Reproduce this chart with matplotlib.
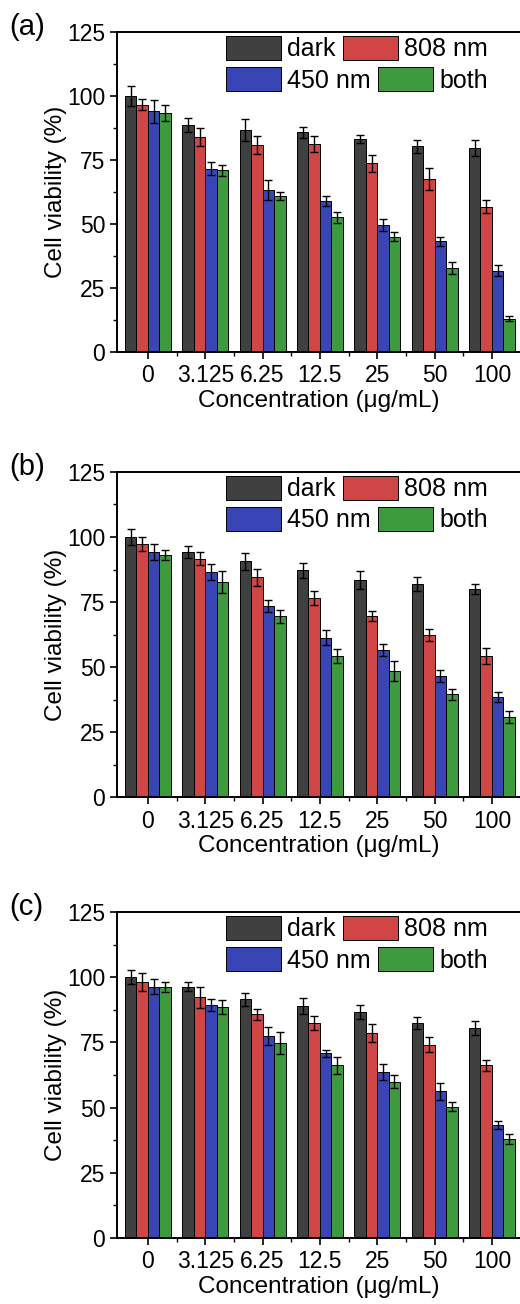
import numpy as np
import matplotlib
matplotlib.use('Agg')
import matplotlib.pyplot as plt
from matplotlib.ticker import MultipleLocator

plt.rcParams['font.family'] = ['Liberation Sans', 'DejaVu Sans']

concentrations = ['0', '3.125', '6.25', '12.5', '25', '50', '100']
series_names = ['dark', '808 nm', '450 nm', 'both']
colors = ['#404040', '#d04545', '#3a45b5', '#3d9b3d']

# panel (a)
a_dark = [100, 88.7, 86.7, 85.8, 83.2, 80.3, 79.7]
a_808 = [96.6, 84.0, 80.9, 81.3, 73.8, 67.4, 56.8]
a_450 = [94.0, 71.6, 63.4, 59.0, 49.6, 43.3, 31.8]
a_both = [93.4, 70.9, 60.9, 52.6, 45.0, 32.8, 13.0]
a_dark_err = [4.0, 2.7, 4.3, 2.1, 1.7, 2.6, 3.3]
a_808_err = [2.2, 3.5, 3.5, 3.0, 3.3, 4.3, 2.4]
a_450_err = [4.4, 2.5, 3.9, 2.0, 2.2, 1.7, 2.2]
a_both_err = [3.0, 2.1, 1.7, 2.2, 1.8, 2.2, 1.0]

# panel (b)
b_dark = [100, 94.1, 90.6, 87.2, 83.6, 82.0, 80.1]
b_808 = [97.3, 91.7, 84.5, 76.5, 69.5, 62.3, 54.2]
b_450 = [94.2, 86.5, 73.3, 61.3, 56.5, 46.5, 38.6]
b_both = [93.2, 82.7, 69.5, 54.2, 48.6, 39.5, 30.7]
b_dark_err = [3.1, 2.3, 3.2, 2.8, 3.5, 2.7, 1.9]
b_808_err = [2.7, 2.6, 3.3, 2.6, 1.9, 2.2, 3.2]
b_450_err = [3.2, 3.2, 2.3, 3.0, 2.2, 2.3, 1.9]
b_both_err = [1.9, 4.2, 2.6, 2.6, 3.8, 2.1, 2.2]

# panel (c)
c_dark = [100, 96.4, 91.5, 88.9, 86.6, 82.5, 80.5]
c_808 = [98.1, 92.3, 85.7, 82.5, 78.7, 74.1, 66.2]
c_450 = [96.4, 89.4, 77.4, 70.8, 63.6, 56.2, 43.4]
c_both = [96.2, 88.5, 74.8, 66.2, 60.0, 50.4, 38.0]
c_dark_err = [2.6, 1.7, 2.4, 3.2, 2.6, 2.2, 2.7]
c_808_err = [3.4, 4.1, 2.2, 2.6, 3.4, 2.9, 2.2]
c_450_err = [2.9, 2.3, 3.4, 1.3, 3.1, 3.2, 1.5]
c_both_err = [1.9, 2.6, 4.1, 3.3, 2.6, 1.7, 1.9]

panels = [
    ('(a)', [a_dark, a_808, a_450, a_both], [a_dark_err, a_808_err, a_450_err, a_both_err]),
    ('(b)', [b_dark, b_808, b_450, b_both], [b_dark_err, b_808_err, b_450_err, b_both_err]),
    ('(c)', [c_dark, c_808, c_450, c_both], [c_dark_err, c_808_err, c_450_err, c_both_err]),
]

W, H = 520, 1304
fig = plt.figure(figsize=(W / 100, H / 100), dpi=100)

# axes boxes in pixels: (top, bottom)
boxes = [(32, 352), (472, 797), (912, 1238)]
left_px = 117

x = np.arange(len(concentrations))
width = 0.2

leg_kw = dict(ncol=2, loc='upper right', frameon=False, fontsize=18,
              handlelength=2.2, handleheight=1.1, handletextpad=0.25,
              columnspacing=0.3, borderpad=0.0, borderaxespad=0.0)

for (label, vals, errs), (top, bot) in zip(panels, boxes):
    ax_h = bot - top
    ax = fig.add_axes([left_px / W, 1 - bot / H, 1 - left_px / W, ax_h / H])
    bars = []
    for i in range(4):
        b = ax.bar(x + (i - 1.5) * width, vals[i], width, color=colors[i],
                   edgecolor='black', linewidth=0.7, label=series_names[i],
                   yerr=errs[i], capsize=3.2,
                   error_kw=dict(ecolor='black', elinewidth=1.0, capthick=1.0))
        bars.append(b)
    ax.set_ylim(0, 125)
    ax.set_xlim(-0.54, 6.49)
    ax.yaxis.set_major_locator(MultipleLocator(25))
    ax.yaxis.set_minor_locator(MultipleLocator(12.5))
    ax.set_xticks(x)
    ax.set_xticklabels(concentrations)
    ax.set_xticks(x[:-1] + 0.5, minor=True)
    ax.tick_params(which='major', direction='out', length=5, width=1.2, labelsize=16.5)
    ax.tick_params(which='minor', direction='out', length=3, width=1.0)
    ax.tick_params(axis='x', pad=4)
    ax.spines['right'].set_visible(False)
    for s in ['left', 'top', 'bottom']:
        ax.spines[s].set_linewidth(1.4)
    ax.set_ylabel('Cell viability (%)', fontsize=17.5, labelpad=0)
    ax.set_xlabel('Concentration (μg/mL)', fontsize=17.5, labelpad=2)

    # legend rows laid out independently, right aligned
    rx = (488 - left_px) / (W - left_px)
    leg1 = ax.legend([bars[0], bars[1]], [series_names[0], series_names[1]],
                     bbox_to_anchor=(rx, 1 - 4 / ax_h), **leg_kw)
    ax.add_artist(leg1)
    ax.legend([bars[2], bars[3]], [series_names[2], series_names[3]],
              bbox_to_anchor=(rx, 1 - 35 / ax_h), **leg_kw)

    fig.text(9 / W, 1 - (top - 5) / H, label, fontsize=21, ha='left', va='center')

fig.savefig('out.png', dpi=100)
